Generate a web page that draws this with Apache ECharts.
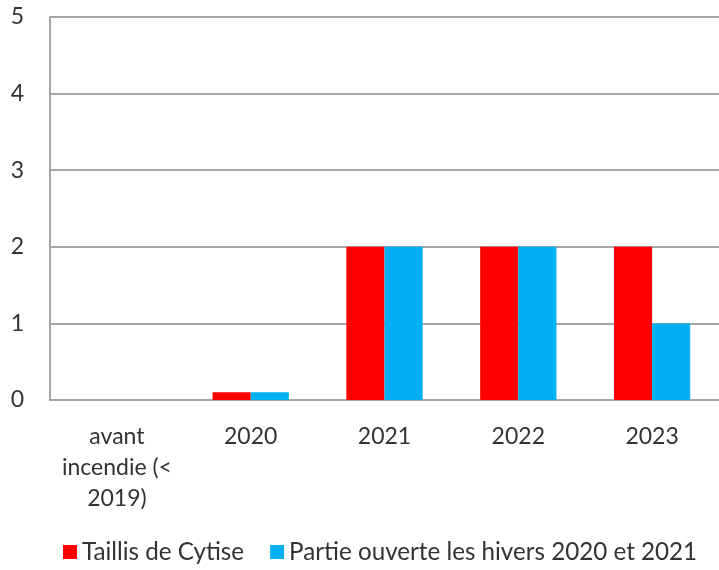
<!DOCTYPE html>
<html>
<head>
<meta charset="utf-8">
<script src="https://cdn.jsdelivr.net/npm/echarts@6/dist/echarts.min.js"></script>
<style>
  html, body { margin: 0; padding: 0; background: #fff; }
  #chart { width: 719px; height: 570px; }
</style>
</head>
<body>
<div id="chart"></div>
<script>
// categories and values
var categories = ['avant\nincendie (<\n2019)', '2020', '2021', '2022', '2023'];
var taillis = [0, 0.1, 2, 2, 2];
var partie = [0, 0.1, 2, 2, 1];
var seriesNames = ['Taillis de Cytise', 'Partie ouverte les hivers 2020 et 2021'];

var chart = echarts.init(document.getElementById('chart'));
var font = 'Lato, "Open Sans", sans-serif';

var option = {
    animation: false,
    color: ['#ff0000', '#00b0f0'],
    grid: { left: 50, width: 673, top: 17, bottom: 170, containLabel: false },
    legend: {
        bottom: 1,
        left: 58,
        itemWidth: 14,
        itemHeight: 14,
        itemGap: 26,
        icon: 'rect',
        textStyle: { fontFamily: font, fontSize: 24.2, color: '#333' },
        data: seriesNames
    },
    xAxis: {
        type: 'category',
        data: categories,
        axisLine: { lineStyle: { color: '#a6a6a6', width: 2 } },
        axisTick: { show: false },
        axisLabel: {
            interval: 0,
            margin: 21,
            fontFamily: font,
            fontSize: 23,
            lineHeight: 31,
            color: '#333'
        }
    },
    yAxis: {
        type: 'value',
        min: 0,
        max: 5,
        interval: 1,
        axisLine: { show: true, lineStyle: { color: '#a6a6a6', width: 2 } },
        axisTick: { show: false },
        splitLine: { lineStyle: { color: '#a6a6a6', width: 2 } },
        axisLabel: { margin: 26, fontFamily: font, fontSize: 23, color: '#333' }
    },
    series: [
        {
            name: seriesNames[0],
            type: 'bar',
            data: taillis,
            barGap: '0%',
            barCategoryGap: '43%'
        },
        {
            name: seriesNames[1],
            type: 'bar',
            data: partie,
            barGap: '0%',
            barCategoryGap: '43%'
        }
    ]
};

chart.setOption(option);
</script>
</body>
</html>
